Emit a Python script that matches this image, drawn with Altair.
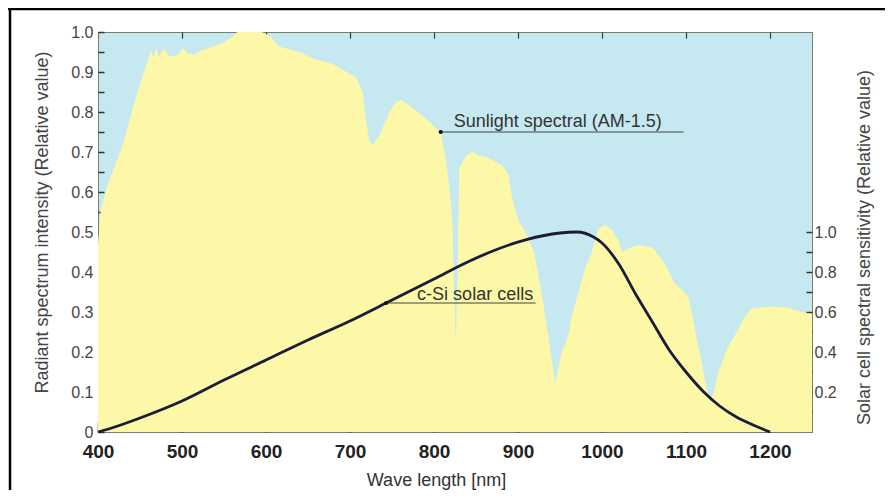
import altair as alt
import pandas as pd

# AM-1.5 sunlight spectrum (relative, left axis)
spec_wl = [400, 403, 410, 420, 430, 440, 450, 461, 463, 466, 469, 473, 478, 483, 489, 495,
           501, 507, 514, 524, 546, 558, 566, 595, 605, 616, 640, 656, 679, 696, 707, 715,
           720, 723, 727, 735, 747, 755, 761, 775, 794, 808, 814, 819, 822, 824, 826, 828,
           830, 838, 846, 854, 862, 881, 889, 893, 901, 909, 919, 925, 931, 937, 941, 944,
           948, 952, 956, 960, 964, 972, 980, 988, 992, 996, 1004, 1012, 1020, 1024, 1032,
           1043, 1055, 1060, 1075, 1087, 1095, 1103, 1107, 1113, 1119, 1124, 1129, 1133,
           1138, 1150, 1162, 1170, 1178, 1194, 1210, 1225, 1237, 1250]
spec_val = [0.47, 0.55, 0.61, 0.665, 0.72, 0.80, 0.87, 0.94, 0.955, 0.934, 0.96, 0.938, 0.96,
            0.943, 0.938, 0.943, 0.96, 0.947, 0.943, 0.955, 0.97, 0.985, 1.0, 1.0, 0.99, 0.963,
            0.95, 0.934, 0.92, 0.90, 0.886, 0.85, 0.767, 0.726, 0.717, 0.742, 0.80, 0.826,
            0.83, 0.81, 0.776, 0.747, 0.684, 0.60, 0.5175, 0.35, 0.226, 0.40, 0.66, 0.69,
            0.70, 0.69, 0.688, 0.667, 0.6425, 0.584, 0.526, 0.50, 0.45, 0.384, 0.309, 0.226,
            0.1675, 0.12, 0.16, 0.20, 0.2175, 0.2425, 0.29, 0.35, 0.41, 0.45, 0.484, 0.509,
            0.5175, 0.505, 0.476, 0.45, 0.46, 0.4675, 0.463, 0.462, 0.42, 0.37, 0.355, 0.338,
            0.297, 0.23, 0.17, 0.113, 0.08, 0.097, 0.147, 0.213, 0.255, 0.288, 0.309, 0.313,
            0.313, 0.309, 0.30, 0.295]

# c-Si solar cell spectral sensitivity (relative, right axis)
sens_wl = [400, 420, 450, 500, 550, 600, 650, 700, 743, 800, 840, 870, 910, 950, 970,
           990, 1000, 1020, 1040, 1060, 1080, 1100, 1120, 1140, 1160, 1180, 1200]
sens_val = [0.0, 0.025, 0.07, 0.155, 0.26, 0.36, 0.46, 0.555, 0.645, 0.765, 0.85, 0.905,
            0.962, 0.995, 1.0, 0.975, 0.945, 0.84, 0.69, 0.55, 0.41, 0.30, 0.205, 0.13,
            0.075, 0.035, 0.0]

x_ticks = [400, 500, 600, 700, 800, 900, 1000, 1100, 1200]
left_labels = [0, 0.1, 0.2, 0.3, 0.4, 0.5, 0.6, 0.7, 0.8, 0.9, 1.0]
left_minor = [i * 0.05 for i in range(0, 21)]
right_labels = [0.2, 0.4, 0.6, 0.8, 1.0]
right_minor = [0.1, 0.2, 0.3, 0.4, 0.5, 0.6, 0.7, 0.8, 0.9, 1.0]

sun_note = pd.DataFrame({"wl": [808], "v": [0.75], "end": [1097],
                         "label": ["Sunlight spectral (AM-1.5)"]})
cell_note = pd.DataFrame({"wl": [743], "s": [0.645], "end": [921],
                          "label": ["c-Si solar cells"]})

spec_df = pd.DataFrame({"wl": spec_wl, "v": spec_val})
sens_df = pd.DataFrame({"wl": sens_wl, "s": sens_val})
one = pd.DataFrame({"k": [0]})

FONT = "Liberation Sans, Arial, Helvetica, sans-serif"
DOMAIN = "#7d7d6b"
TICK = "#333333"

xscale = alt.Scale(domain=[400, 1250], nice=False, zero=False)
lscale = alt.Scale(domain=[0, 1], nice=False)
rscale = alt.Scale(domain=[0, 2], nice=False)

# spectrum area + bottom labels + left labels
area = alt.Chart(spec_df).mark_area(color="#fdf8a8", interpolate="linear").encode(
    x=alt.X("wl:Q", scale=xscale, axis=alt.Axis(
        orient="bottom", values=x_ticks, format="d", ticks=False, domain=True,
        domainColor=DOMAIN, grid=False, labelFont=FONT, labelFontWeight="bold",
        labelFontSize=19, labelColor="#222222", labelPadding=10, labelFlush=False,
        labelOverlap=False,
        title="Wave length [nm]", titleFont=FONT, titleFontSize=18,
        titleFontWeight="normal", titleColor="#333333", titleX=338, titleY=53,
        titleBaseline="alphabetic")),
    y=alt.Y("v:Q", scale=lscale, axis=alt.Axis(
        orient="left", values=left_labels,
        labelExpr="datum.value == 0 ? '0' : format(datum.value, '.1f')",
        ticks=False, domain=True, domainColor=DOMAIN, grid=False, labelFont=FONT,
        labelFontSize=16, labelColor="#444444", labelPadding=5, labelFlush=False,
        labelOverlap=False,
        title="Radiant spectrum intensity (Relative value)", titleFont=FONT,
        titleFontSize=18, titleFontWeight="normal", titleColor="#444444",
        titleAngle=270, titleBaseline="middle", titleX=-56, titleY=190)),
)

# inward ticks: top x, left y
ticks_a = alt.Chart(spec_df).mark_point(opacity=0).encode(
    x=alt.X("wl:Q", scale=xscale, axis=alt.Axis(
        orient="top", values=x_ticks, labels=False, domain=False, ticks=True,
        tickSize=6, offset=-6, tickColor=TICK, tickWidth=1.2, grid=False, title=None)),
    y=alt.Y("v:Q", scale=lscale, axis=alt.Axis(
        orient="left", values=left_minor, labels=False, domain=False, ticks=True,
        tickSize=6, offset=-6, tickColor=TICK, tickWidth=1.5, grid=False, title=None)),
)

# inward ticks: bottom x
ticks_b = alt.Chart(spec_df).mark_point(opacity=0).encode(
    x=alt.X("wl:Q", scale=xscale, axis=alt.Axis(
        orient="bottom", values=x_ticks, labels=False, domain=False, ticks=True,
        tickSize=10, offset=-10, tickColor=TICK, tickWidth=1.5, grid=False, title=None)),
    y=alt.Y("v:Q", scale=lscale, axis=None),
)

# sensitivity line + right labels
sens = alt.Chart(sens_df).mark_line(color="#1c1c38", strokeWidth=2.8,
                                    interpolate="monotone").encode(
    x=alt.X("wl:Q", scale=xscale, axis=None),
    y=alt.Y("s:Q", scale=rscale, axis=alt.Axis(
        orient="right", values=right_labels, format=".1f", ticks=False, domain=True,
        domainColor=DOMAIN, grid=False, labelFont=FONT, labelFontSize=16,
        labelColor="#444444", labelPadding=2, labelFlush=False, labelOverlap=False,
        title="Solar cell spectral sensitivity (Relative value)", titleFont=FONT,
        titleFontSize=18, titleFontWeight="normal", titleColor="#444444",
        titleAngle=270, titleBaseline="middle", titleX=52, titleY=215)),
)

ticks_r = alt.Chart(sens_df).mark_point(opacity=0).encode(
    x=alt.X("wl:Q", scale=xscale, axis=None),
    y=alt.Y("s:Q", scale=rscale, axis=alt.Axis(
        orient="right", values=right_minor, labels=False, domain=False, ticks=True,
        tickSize=6, offset=-6, tickColor=TICK, tickWidth=1.5, grid=False, title=None)),
)

# annotations
sun_rule = alt.Chart(sun_note).mark_rule(color="#444444", strokeWidth=1).encode(
    x=alt.X("wl:Q", scale=xscale, axis=None), x2="end:Q",
    y=alt.Y("v:Q", scale=lscale, axis=None))
sun_dot = alt.Chart(sun_note).mark_point(filled=True, color="#111111", size=18,
                                         opacity=1).encode(
    x=alt.X("wl:Q", scale=xscale, axis=None),
    y=alt.Y("v:Q", scale=lscale, axis=None))
sun_text = alt.Chart(sun_note).mark_text(align="left", baseline="alphabetic", dx=13, dy=-5,
                                         font=FONT, fontSize=18, color="#333333").encode(
    x=alt.X("wl:Q", scale=xscale, axis=None),
    y=alt.Y("v:Q", scale=lscale, axis=None), text="label:N")

cell_rule = alt.Chart(cell_note).mark_rule(color="#444444", strokeWidth=1).encode(
    x=alt.X("wl:Q", scale=xscale, axis=None), x2="end:Q",
    y=alt.Y("s:Q", scale=rscale, axis=None))
cell_dot = alt.Chart(cell_note).mark_point(filled=True, color="#111111", size=18,
                                           opacity=1).encode(
    x=alt.X("wl:Q", scale=xscale, axis=None),
    y=alt.Y("s:Q", scale=rscale, axis=None))
cell_text = alt.Chart(cell_note).mark_text(align="left", baseline="alphabetic", dx=31, dy=-3,
                                           font=FONT, fontSize=18, color="#333333").encode(
    x=alt.X("wl:Q", scale=xscale, axis=None),
    y=alt.Y("s:Q", scale=rscale, axis=None), text="label:N")

# picture frame (top and left edges)
frame_top = alt.Chart(one).mark_rule(color="#000000", strokeWidth=2.5).encode(
    x=alt.value(-90), x2=alt.value(787), y=alt.value(-23))
frame_left = alt.Chart(one).mark_rule(color="#000000", strokeWidth=2.5).encode(
    x=alt.value(-88), y=alt.value(-24), y2=alt.value(458))

chart = alt.layer(
    area, ticks_a, ticks_b, sens, ticks_r,
    sun_rule, sun_dot, sun_text, cell_rule, cell_dot, cell_text,
    frame_top, frame_left,
).resolve_scale(y="independent").resolve_axis(x="independent", y="independent").properties(
    width=714, height=400,
    autosize=alt.AutoSizeParams(type="none"),
    padding={"left": 90, "top": 24, "right": 73, "bottom": 58},
    background="white",
).configure_view(fill="#c6e8f0", stroke=DOMAIN, strokeWidth=1)

chart.save("out.html", embed_options={"renderer": "svg", "actions": False})
